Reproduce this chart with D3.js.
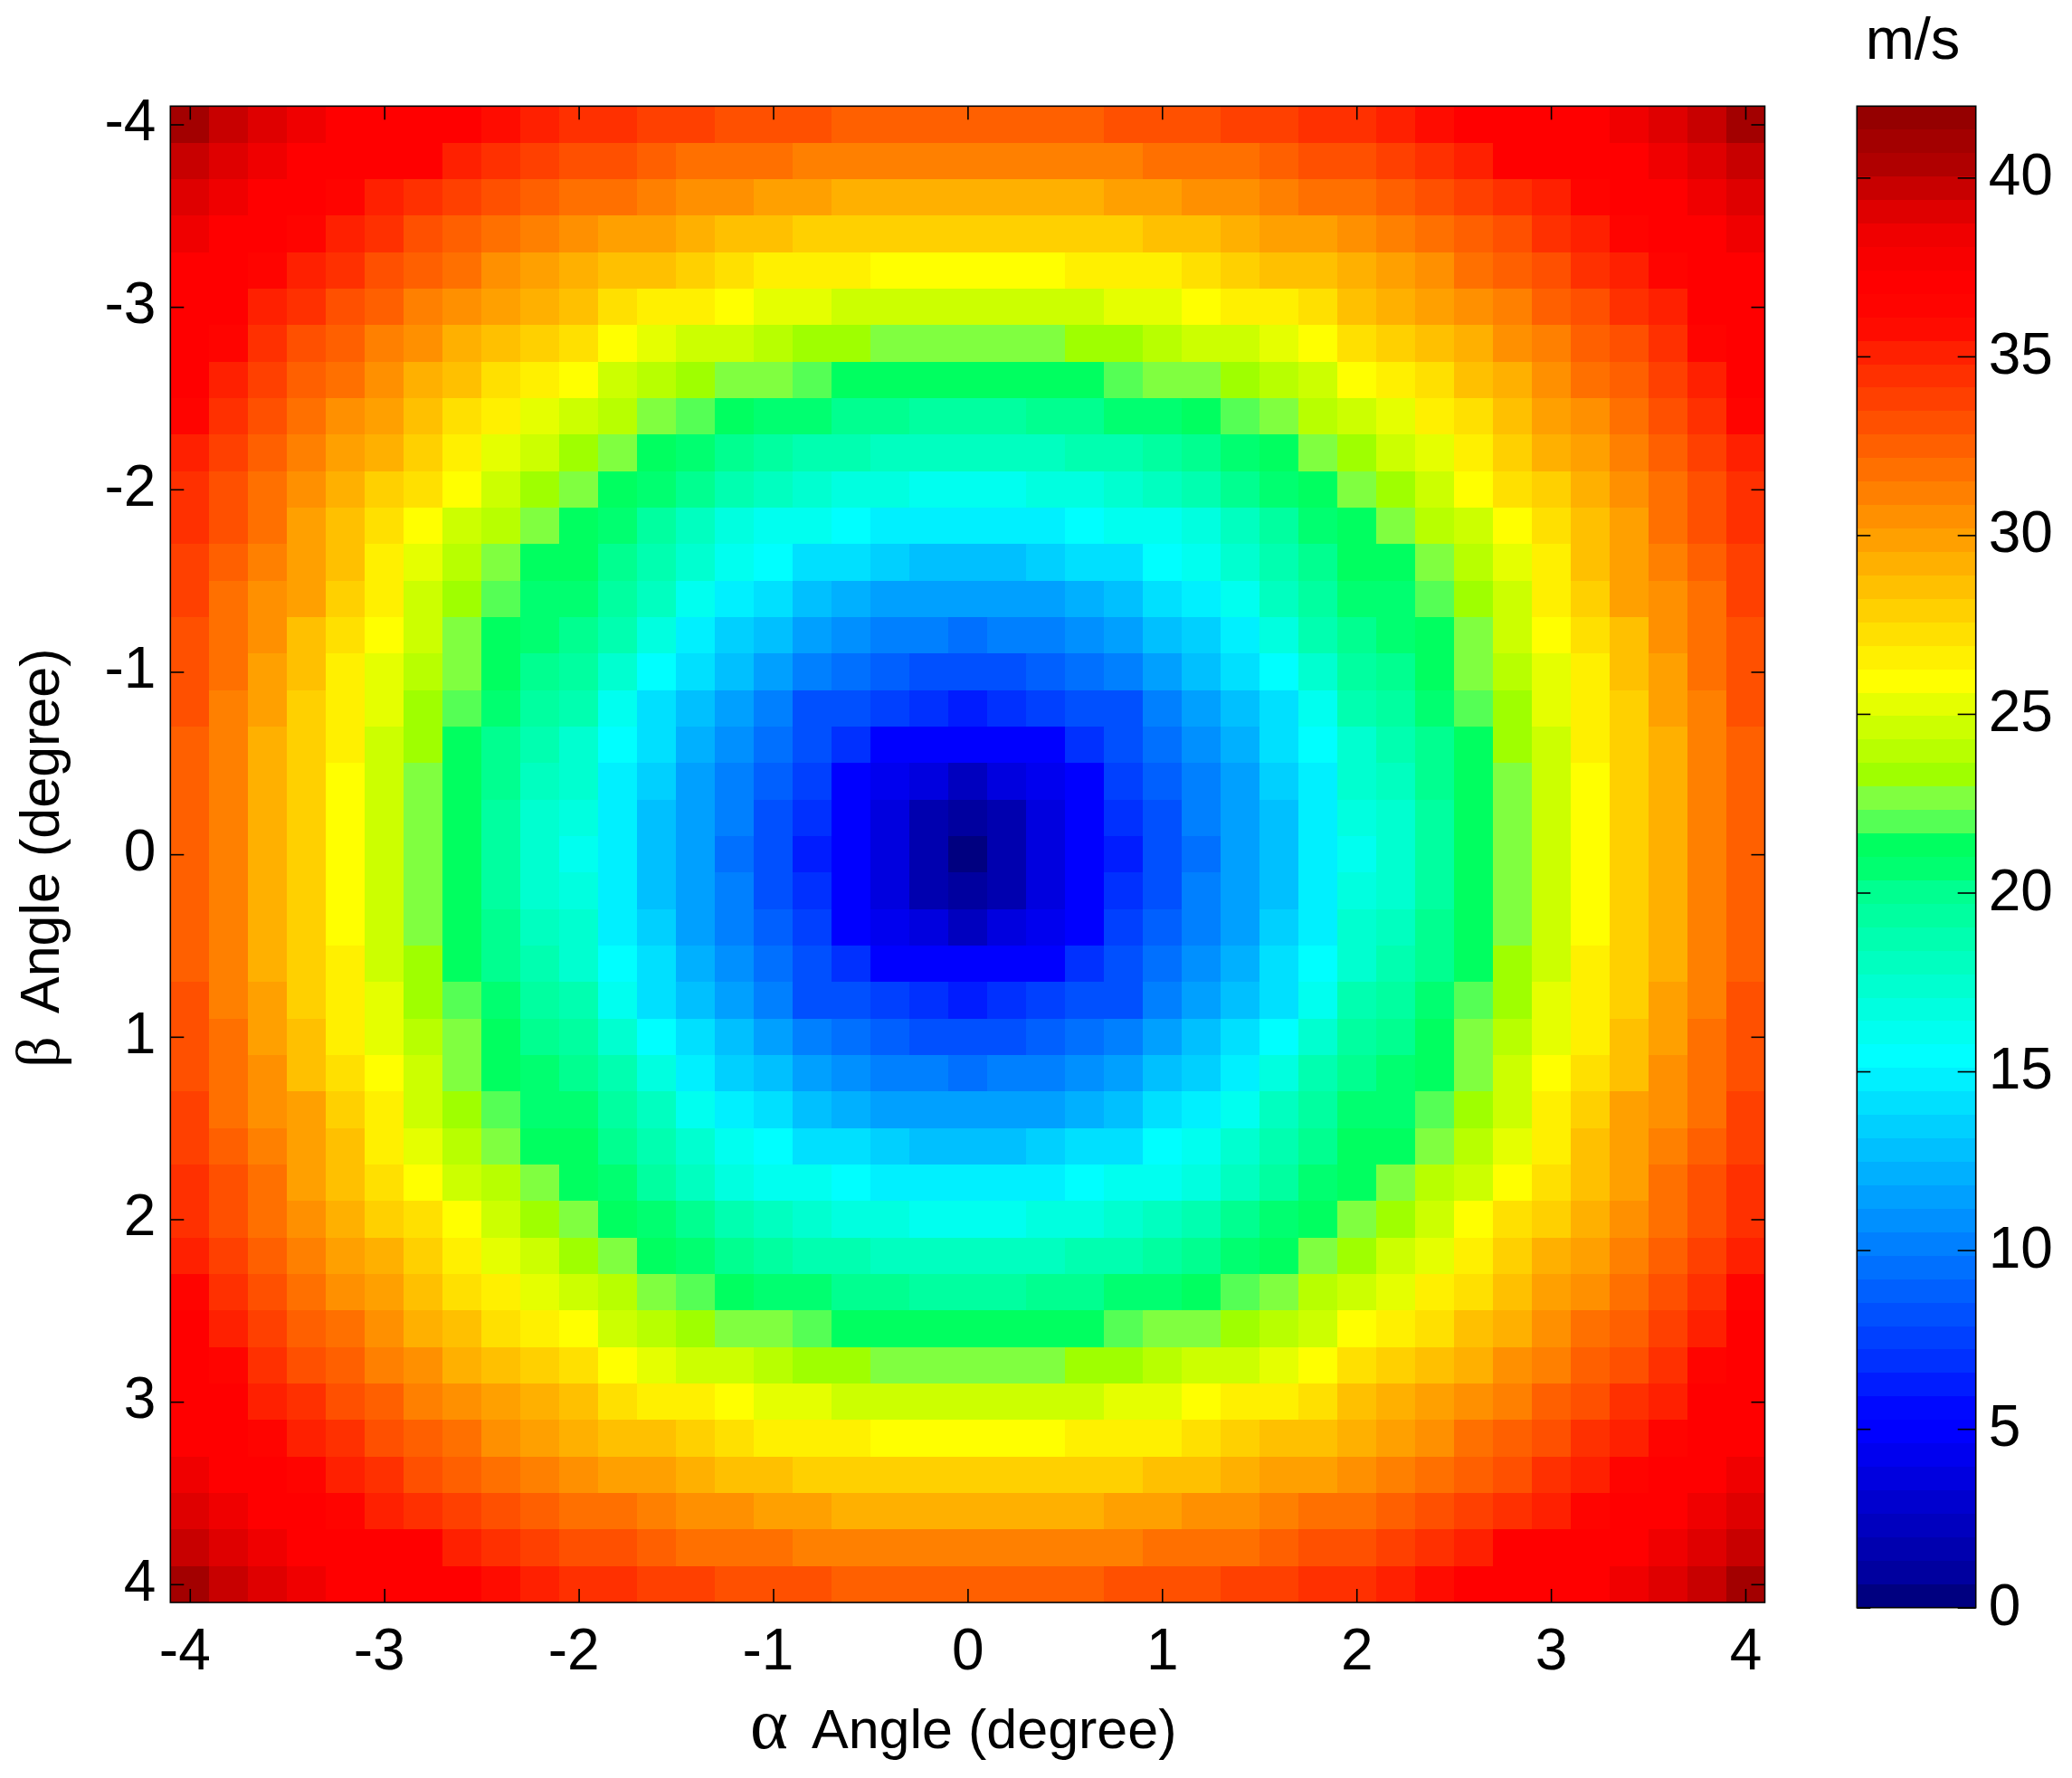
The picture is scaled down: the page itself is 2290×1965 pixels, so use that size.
<!DOCTYPE html>
<html>
<head>
<meta charset="utf-8">
<style>
body { margin: 0; background: #fff; }
svg { display: block; }
text { font-family: "Liberation Sans", Arial, sans-serif; fill: #000; }
.axis text { font-size: 64px; }
.axis path { display: none; }
.axis line { stroke: #000; stroke-width: 1.6; }
.title { font-size: 61px; }
.greek { font-family: "Liberation Serif", serif; }
</style>
</head>
<body>
<svg width="2290" height="1965"></svg>
<script src="https://d3js.org/d3.v7.min.js"></script>
<script>
var alphaAngles = [-4,-3.8,-3.6,-3.4,-3.2,-3,-2.8,-2.6,-2.4,-2.2,-2,-1.8,-1.6,-1.4,-1.2,-1,-0.8,-0.6,-0.4,-0.2,0,0.2,0.4,0.6,0.8,1,1.2,1.4,1.6,1.8,2,2.2,2.4,2.6,2.8,3,3.2,3.4,3.6,3.8,4];
var betaAngles = alphaAngles;
var angleTicks = [-4,-3,-2,-1,0,1,2,3,4];
var speedTicks = [0,5,10,15,20,25,30,35,40];

// colour band (0-63) read off each cell, upper left quarter: beta -4..0, alpha -4..0
// the picture mirrors about both zero lines
var speedBands = [
[62,60,59,58,56,56,56,56,54,53,52,52,51,51,50,50,50,49,49,49,49],
[60,59,58,56,56,56,56,53,52,51,50,50,49,48,48,48,47,47,47,47,47],
[59,58,56,56,55,53,52,51,50,49,48,48,47,46,46,45,45,44,44,44,44],
[58,56,56,55,53,52,50,49,48,47,46,45,45,44,43,43,42,42,42,42,42],
[56,56,55,53,52,50,49,48,46,45,44,43,43,42,41,40,40,40,39,39,39],
[56,56,53,52,50,49,47,46,45,44,43,41,40,40,39,38,38,37,37,37,37],
[56,55,52,50,49,47,46,44,43,42,41,39,38,37,37,36,35,35,34,34,34],
[56,53,51,49,48,46,44,43,41,40,39,37,36,35,34,34,33,32,32,32,32],
[55,52,50,48,46,45,43,41,40,38,37,36,34,33,32,31,31,30,30,29,29],
[53,51,49,47,45,44,42,40,38,37,35,34,32,31,30,29,28,28,27,27,27],
[52,50,48,46,44,42,41,39,37,35,34,32,31,30,28,27,26,25,25,24,24],
[52,50,48,45,43,41,39,37,36,34,32,31,29,27,25,24,24,23,22,22,22],
[51,49,47,45,43,40,38,36,34,32,32,30,28,26,24,23,21,21,20,19,19],
[51,48,46,45,42,40,37,35,33,31,31,29,27,24,22,21,19,18,17,17,17],
[50,48,46,43,41,39,37,34,32,31,30,28,25,22,20,19,17,16,15,15,14],
[50,48,45,43,40,38,36,34,32,30,29,26,23,21,19,17,15,14,13,12,12],
[50,47,45,42,40,38,35,33,31,29,28,24,21,19,17,15,12,12,11,10,9],
[49,47,44,42,40,37,35,32,30,28,26,23,21,18,16,14,12,10,7,7,7],
[49,47,44,42,39,37,34,32,30,27,26,22,20,17,15,13,11,7,6,5,3],
[49,47,44,42,39,37,34,32,29,26,25,22,19,17,15,12,10,7,5,2,1],
[49,47,44,42,39,37,34,32,29,26,24,22,19,17,14,12,9,7,5,2,0]
];

// colormap as seen in the colorbar, bottom to top
var bandColors = ["#000080","#00009f","#0000af","#0000bf","#0000cf","#0000df","#0000ef","#0000ff",
"#0008ff","#001cff","#0030ff","#0040ff","#0050ff","#0060ff","#0070ff","#0080ff",
"#0090ff","#00a0ff","#00b0ff","#00c0ff","#00d0ff","#00e0ff","#00f0ff","#00ffff",
"#00fff0","#00ffe0","#00ffd0","#00ffc0","#00ffb0","#00ffa0","#00ff90","#00ff70",
"#00ff60","#55ff55","#80ff40","#9fff00","#b8ff00","#ccff00","#e5ff00","#ffff00",
"#fff000","#ffe000","#ffd000","#ffc000","#ffb000","#ffa000","#ff9000","#ff8000",
"#ff7000","#ff6000","#ff5000","#ff4000","#ff3000","#ff2000","#ff0c00","#ff0400",
"#ff0000","#f80000","#f00000","#df0000","#c80000","#b00000","#a30000","#950000"];

var speedMax = 42;
var svg = d3.select("svg");

var plot = {left: 188.3, right: 1950.5, top: 117.3, bottom: 1771};
var bar = {left: 2052.3, right: 2183.7, top: 117.3, bottom: 1776.7};

var x = d3.scaleLinear().domain([-4.1, 4.1]).range([plot.left, plot.right]);
var y = d3.scaleLinear().domain([-4.1, 4.1]).range([plot.top, plot.bottom]);
var speedY = d3.scaleLinear().domain([0, speedMax]).range([bar.bottom, bar.top]);
var color = d3.scaleQuantize().domain([0, speedMax]).range(bandColors);
var bandSize = speedMax / bandColors.length;

function speedAt(row, col) {
  var r = row <= 20 ? row : 40 - row;
  var c = col <= 20 ? col : 40 - col;
  return (speedBands[r][c] + 0.5) * bandSize;
}

var cells = [];
betaAngles.forEach(function(b, i) {
  alphaAngles.forEach(function(a, j) {
    cells.push({alpha: a, beta: b, speed: speedAt(i, j)});
  });
});

svg.append("g").selectAll("rect")
  .data(cells)
  .enter().append("rect")
  .attr("x", function(d) { return x(d.alpha - 0.1); })
  .attr("y", function(d) { return y(d.beta - 0.1); })
  .attr("width", function(d) { return x(d.alpha + 0.1) - x(d.alpha - 0.1); })
  .attr("height", function(d) { return y(d.beta + 0.1) - y(d.beta - 0.1); })
  .attr("fill", function(d) { return color(d.speed); })
  .attr("shape-rendering", "crispEdges");

function fmt(d) { return String(d); }

var xAxisG = svg.append("g").attr("class", "axis")
  .attr("transform", "translate(0," + plot.bottom + ")")
  .call(d3.axisBottom(x).tickValues(angleTicks).tickFormat(fmt).tickSize(-15).tickPadding(29));
// the minus signs hang further left in the original
xAxisG.selectAll("text").attr("dx", function(d) { return d < 0 ? -6 : 0; });

svg.append("g").attr("class", "axis")
  .attr("transform", "translate(0," + plot.top + ")")
  .call(d3.axisTop(x).tickValues(angleTicks).tickFormat("").tickSize(-15));
var yAxisG = svg.append("g").attr("class", "axis")
  .attr("transform", "translate(" + plot.left + ",0)")
  .call(d3.axisLeft(y).tickValues(angleTicks).tickFormat(fmt).tickSize(-15).tickPadding(16));
yAxisG.selectAll("text").attr("dy", "0.27em");
svg.append("g").attr("class", "axis")
  .attr("transform", "translate(" + plot.right + ",0)")
  .call(d3.axisRight(y).tickValues(angleTicks).tickFormat("").tickSize(-15));

svg.append("rect")
  .attr("x", plot.left).attr("y", plot.top)
  .attr("width", plot.right - plot.left).attr("height", plot.bottom - plot.top)
  .attr("fill", "none").attr("stroke", "#000").attr("stroke-width", 1.6);

// colorbar
svg.append("g").selectAll("rect")
  .data(bandColors)
  .enter().append("rect")
  .attr("x", bar.left)
  .attr("width", bar.right - bar.left)
  .attr("y", function(d, i) { return speedY((i + 1) * bandSize); })
  .attr("height", function(d, i) { return speedY(i * bandSize) - speedY((i + 1) * bandSize); })
  .attr("fill", function(d) { return d; })
  .attr("shape-rendering", "crispEdges");

var barAxisG = svg.append("g").attr("class", "axis")
  .attr("transform", "translate(" + bar.right + ",0)")
  .call(d3.axisRight(speedY).tickValues(speedTicks).tickFormat(fmt).tickSize(-20).tickPadding(14));
barAxisG.selectAll("text").attr("dy", "0.29em");
svg.append("g").attr("class", "axis")
  .attr("transform", "translate(" + bar.left + ",0)")
  .call(d3.axisLeft(speedY).tickValues(speedTicks).tickFormat("").tickSize(-15));

svg.append("rect")
  .attr("x", bar.left).attr("y", bar.top)
  .attr("width", bar.right - bar.left).attr("height", bar.bottom - bar.top)
  .attr("fill", "none").attr("stroke", "#000").attr("stroke-width", 1.6);

// labels
var xLabel = svg.append("text").attr("class", "title").attr("x", 829).attr("y", 1932);
xLabel.append("tspan").attr("class", "greek").style("font-size", "80px").text("α");
xLabel.append("tspan").attr("x", 897).text("Angle (degree)");

var yLabel = svg.append("text").attr("class", "title")
  .attr("transform", "translate(65,1180) rotate(-90)");
yLabel.append("tspan").attr("class", "greek").style("font-size", "68px").text("β");
yLabel.append("tspan").attr("x", 60).text("Angle (degree)");

svg.append("text").attr("class", "title").style("font-size", "65px")
  .attr("x", 2114).attr("y", 65).attr("text-anchor", "middle").text("m/s");
</script>
</body>
</html>
